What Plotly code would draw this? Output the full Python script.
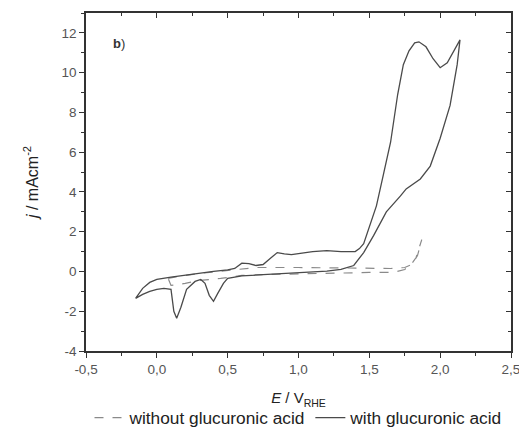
import plotly.graph_objects as go

# with glucuronic acid (solid) - anodic then cathodic sweep
E_with = [-0.15, -0.1, -0.05, 0.0, 0.1, 0.2, 0.3, 0.4, 0.5, 0.55, 0.6, 0.65, 0.7, 0.75, 0.8, 0.85,
          0.9, 0.95, 1.0, 1.1, 1.2, 1.3, 1.4, 1.43, 1.46, 1.5, 1.55, 1.6, 1.65, 1.7, 1.74, 1.78,
          1.82, 1.85, 1.9, 1.95, 2.0, 2.05, 2.1, 2.14,
          2.12, 2.07, 2.0, 1.93, 1.86, 1.76, 1.72, 1.62, 1.53, 1.46, 1.39, 1.3, 1.2, 1.0, 0.8,
          0.6, 0.5, 0.47, 0.43, 0.40, 0.37, 0.34, 0.31, 0.27, 0.21, 0.17, 0.14, 0.12, 0.1,
          0.05, 0.0, -0.05, -0.1, -0.15]
j_with = [-1.35, -0.85, -0.55, -0.4, -0.28, -0.18, -0.08, 0.0, 0.08, 0.15, 0.42, 0.4, 0.3, 0.35, 0.65, 0.95,
          0.88, 0.85, 0.9, 1.0, 1.05, 1.0, 1.0, 1.15, 1.4, 2.2, 3.3, 4.9, 6.5, 8.9, 10.4, 11.1,
          11.5, 11.55, 11.3, 10.7, 10.25, 10.5, 11.1, 11.65,
          10.4, 8.35, 6.7, 5.3, 4.65, 4.15, 3.8, 3.0, 1.8, 0.95, 0.3, 0.1, 0.02, -0.05, -0.12,
          -0.22, -0.35, -0.6, -1.1, -1.5, -1.2, -0.6, -0.4, -0.5, -0.9, -1.8, -2.35, -2.0, -0.9,
          -0.85, -0.9, -1.0, -1.15, -1.35]

# without glucuronic acid (dashed)
E_without = [0.08, 0.15, 0.3, 0.45, 0.5, 0.6, 0.7, 1.0, 1.3, 1.5, 1.65, 1.75, 1.8, 1.84, 1.87,
             1.83, 1.8, 1.75, 1.67, 1.5, 1.2, 1.0, 0.8, 0.6, 0.45, 0.3, 0.2, 0.1, 0.08]
j_without = [-0.35, -0.25, -0.1, 0.0, 0.05, 0.12, 0.2, 0.2, 0.18, 0.15, 0.15, 0.2, 0.35, 0.8, 1.6,
             0.7, 0.4, 0.1, -0.05, -0.05, -0.08, -0.1, -0.15, -0.2, -0.35, -0.45, -0.6, -0.7, -0.35]

x_ticks = [-0.5, 0.0, 0.5, 1.0, 1.5, 2.0, 2.5]
x_labels = ["-0,5", "0,0", "0,5", "1,0", "1,5", "2,0", "2,5"]
y_ticks = [-4, -2, 0, 2, 4, 6, 8, 10, 12]
y_labels = ["-4", "-2", "0", "2", "4", "6", "8", "10", "12"]

FONT = "Liberation Sans, Arial"

fig = go.Figure()
fig.add_trace(go.Scatter(x=E_without, y=j_without, mode="lines", name="without glucuronic acid",
                         line=dict(color="#8a8a8a", width=1.2, dash="dash")))
fig.add_trace(go.Scatter(x=E_with, y=j_with, mode="lines", name="with glucuronic acid",
                         line=dict(color="#4a4a4a", width=1.3)))
fig.add_trace(go.Scatter(x=[None], y=[None], xaxis="x2", yaxis="y2", showlegend=False,
                         hoverinfo="skip"))

axis_common = dict(showgrid=False, zeroline=False, linecolor="#333", linewidth=1.5,
                   tickcolor="#333", ticklen=5, tickwidth=1.2,
                   tickfont=dict(family=FONT, size=13.5, color="#555"))

fig.update_layout(
    width=527, height=428,
    margin=dict(l=78, r=24, t=5, b=85, autoexpand=False),
    paper_bgcolor="white", plot_bgcolor="white",
    xaxis=dict(range=[-0.5, 2.5], tickvals=x_ticks, ticktext=x_labels, ticks="outside",
               minor=dict(ticks="outside", dtick=0.25, ticklen=3, tickcolor="#333"),
               title=dict(text="<i>E</i> / V<sub>RHE</sub>", standoff=17,
                          font=dict(family=FONT, size=15, color="#222")),
               **axis_common),
    yaxis=dict(range=[-4, 13], tickvals=y_ticks, ticktext=y_labels, ticks="outside",
               minor=dict(ticks="outside", dtick=1, ticklen=3, tickcolor="#333"),
               title=dict(text="<i>j</i> / mAcm<sup>-2</sup>", standoff=19,
                          font=dict(family=FONT, size=16, color="#222")),
               **axis_common),
    xaxis2=dict(range=[-0.5, 2.5], overlaying="x", side="top", tickvals=x_ticks,
                ticks="inside", showticklabels=False, anchor="y",
                minor=dict(ticks="inside", dtick=0.25, ticklen=3, tickcolor="#333"),
                showgrid=False, zeroline=False, linecolor="#333", linewidth=1.5,
                tickcolor="#333", ticklen=5),
    yaxis2=dict(range=[-4, 13], overlaying="y", side="right", tickvals=y_ticks,
                ticks="inside", showticklabels=False, anchor="x",
                minor=dict(ticks="inside", dtick=1, ticklen=3, tickcolor="#333"),
                showgrid=False, zeroline=False, linecolor="#333", linewidth=1.5,
                tickcolor="#333", ticklen=5),
    legend=dict(orientation="h", x=0.5, xanchor="center", y=-0.198, yanchor="middle",
                font=dict(family=FONT, size=17.3, color="#222"),
                bgcolor="rgba(0,0,0,0)", itemwidth=30, tracegroupgap=0),
    showlegend=True,
)

fig.add_annotation(x=-0.27, y=11.45, xref="x", yref="y", text="<b>b</b>)", showarrow=False,
                   font=dict(family=FONT, size=13, color="#333"))

fig.write_html("out.html")
